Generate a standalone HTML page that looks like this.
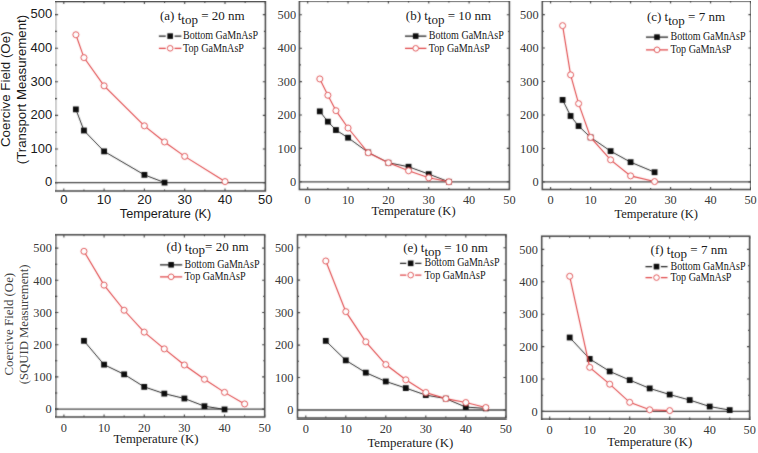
<!DOCTYPE html>
<html><head><meta charset="utf-8"><style>
html,body{margin:0;padding:0;background:#fff;}
body{width:758px;height:453px;overflow:hidden;}
svg{display:block;}
</style></head><body>
<svg width="758" height="453" viewBox="0 0 758 453">
<defs><filter id="bl" x="0" y="0" width="100%" height="100%"><feConvolveMatrix order="3" kernelMatrix="1 2 1 2 16 2 1 2 1" divisor="28" edgeMode="duplicate" preserveAlpha="false"/></filter></defs>
<rect width="758" height="453" fill="#fff"/>
<g filter="url(#bl)">
<path d="M63.8 191v-2.6M63.8 1.5v2.6M83.95 191v-1.5M83.95 1.5v1.5M104.1 191v-2.6M104.1 1.5v2.6M124.25 191v-1.5M124.25 1.5v1.5M144.4 191v-2.6M144.4 1.5v2.6M164.55 191v-1.5M164.55 1.5v1.5M184.7 191v-2.6M184.7 1.5v2.6M204.85 191v-1.5M204.85 1.5v1.5M225 191v-2.6M225 1.5v2.6M245.15 191v-1.5M245.15 1.5v1.5M265.3 191v-2.6M265.3 1.5v2.6M55.5 182.6h2.6M265.4 182.6h-2.6M55.5 165.8h1.5M265.4 165.8h-1.5M55.5 149h2.6M265.4 149h-2.6M55.5 132.2h1.5M265.4 132.2h-1.5M55.5 115.4h2.6M265.4 115.4h-2.6M55.5 98.6h1.5M265.4 98.6h-1.5M55.5 81.8h2.6M265.4 81.8h-2.6M55.5 65h1.5M265.4 65h-1.5M55.5 48.2h2.6M265.4 48.2h-2.6M55.5 31.4h1.5M265.4 31.4h-1.5M55.5 14.6h2.6M265.4 14.6h-2.6" stroke="#444" stroke-width="1.1" fill="none"/>
<line x1="55.5" y1="182.6" x2="265.4" y2="182.6" stroke="#444" stroke-width="1.3"/>
<rect x="55.5" y="1.5" width="209.9" height="189.5" fill="none" stroke="#444" stroke-width="1.5"/>
<polyline points="75.89,109.35 83.95,130.52 104.1,151.35 144.4,174.87 164.55,182.6" fill="none" stroke="#222" stroke-width="1"/>
<rect x="72.99" y="106.45" width="5.8" height="5.8" fill="#111"/>
<rect x="81.05" y="127.62" width="5.8" height="5.8" fill="#111"/>
<rect x="101.2" y="148.45" width="5.8" height="5.8" fill="#111"/>
<rect x="141.5" y="171.97" width="5.8" height="5.8" fill="#111"/>
<rect x="161.65" y="179.7" width="5.8" height="5.8" fill="#111"/>
<polyline points="75.89,34.76 83.95,57.61 104.1,85.83 144.4,125.82 164.55,141.94 184.7,156.39 225,181.59" fill="none" stroke="#e04547" stroke-width="1.1"/>
<circle cx="75.89" cy="34.76" r="3" fill="#fff" stroke="#e04547" stroke-width="1"/>
<circle cx="83.95" cy="57.61" r="3" fill="#fff" stroke="#e04547" stroke-width="1"/>
<circle cx="104.1" cy="85.83" r="3" fill="#fff" stroke="#e04547" stroke-width="1"/>
<circle cx="144.4" cy="125.82" r="3" fill="#fff" stroke="#e04547" stroke-width="1"/>
<circle cx="164.55" cy="141.94" r="3" fill="#fff" stroke="#e04547" stroke-width="1"/>
<circle cx="184.7" cy="156.39" r="3" fill="#fff" stroke="#e04547" stroke-width="1"/>
<circle cx="225" cy="181.59" r="3" fill="#fff" stroke="#e04547" stroke-width="1"/>
<path d="M158.9 36.1H165.75M174.55 36.1H181.4" stroke="#222" stroke-width="1.3"/>
<rect x="167.35" y="33.3" width="5.6" height="5.6" fill="#111"/>
<path d="M158.9 48.3H165.75M174.55 48.3H181.4" stroke="#e04547" stroke-width="1.2"/>
<circle cx="170.15" cy="48.3" r="2.8" fill="#fff" stroke="#e04547" stroke-width="1"/>
<path d="M307.7 189.5v-2.6M307.7 1v2.6M327.88 189.5v-1.5M327.88 1v1.5M348.05 189.5v-2.6M348.05 1v2.6M368.23 189.5v-1.5M368.23 1v1.5M388.4 189.5v-2.6M388.4 1v2.6M408.57 189.5v-1.5M408.57 1v1.5M428.75 189.5v-2.6M428.75 1v2.6M448.92 189.5v-1.5M448.92 1v1.5M469.1 189.5v-2.6M469.1 1v2.6M489.27 189.5v-1.5M489.27 1v1.5M509.45 189.5v-2.6M509.45 1v2.6M299.4 181.8h2.6M509.4 181.8h-2.6M299.4 165.1h1.5M509.4 165.1h-1.5M299.4 148.4h2.6M509.4 148.4h-2.6M299.4 131.7h1.5M509.4 131.7h-1.5M299.4 115h2.6M509.4 115h-2.6M299.4 98.3h1.5M509.4 98.3h-1.5M299.4 81.6h2.6M509.4 81.6h-2.6M299.4 64.9h1.5M509.4 64.9h-1.5M299.4 48.2h2.6M509.4 48.2h-2.6M299.4 31.5h1.5M509.4 31.5h-1.5M299.4 14.8h2.6M509.4 14.8h-2.6" stroke="#444" stroke-width="1.1" fill="none"/>
<line x1="299.4" y1="181.8" x2="509.4" y2="181.8" stroke="#444" stroke-width="1.3"/>
<rect x="299.4" y="1" width="210" height="188.5" fill="none" stroke="#444" stroke-width="1.5"/>
<polyline points="319.81,111.33 327.88,121.68 335.94,130.03 348.05,137.71 368.23,152.41 388.4,162.76 408.57,166.77 428.75,174.12 448.92,181.8" fill="none" stroke="#222" stroke-width="1"/>
<rect x="316.91" y="108.43" width="5.8" height="5.8" fill="#111"/>
<rect x="324.98" y="118.78" width="5.8" height="5.8" fill="#111"/>
<rect x="333.05" y="127.13" width="5.8" height="5.8" fill="#111"/>
<rect x="345.15" y="134.81" width="5.8" height="5.8" fill="#111"/>
<rect x="365.33" y="149.51" width="5.8" height="5.8" fill="#111"/>
<rect x="385.5" y="159.86" width="5.8" height="5.8" fill="#111"/>
<rect x="405.68" y="163.87" width="5.8" height="5.8" fill="#111"/>
<rect x="425.85" y="171.22" width="5.8" height="5.8" fill="#111"/>
<rect x="446.02" y="178.9" width="5.8" height="5.8" fill="#111"/>
<polyline points="319.81,78.93 327.88,95.29 335.94,110.66 348.05,128.03 368.23,152.74 388.4,162.76 408.57,170.78 428.75,177.79 448.92,181.8" fill="none" stroke="#e04547" stroke-width="1.1"/>
<circle cx="319.81" cy="78.93" r="3" fill="#fff" stroke="#e04547" stroke-width="1"/>
<circle cx="327.88" cy="95.29" r="3" fill="#fff" stroke="#e04547" stroke-width="1"/>
<circle cx="335.94" cy="110.66" r="3" fill="#fff" stroke="#e04547" stroke-width="1"/>
<circle cx="348.05" cy="128.03" r="3" fill="#fff" stroke="#e04547" stroke-width="1"/>
<circle cx="368.23" cy="152.74" r="3" fill="#fff" stroke="#e04547" stroke-width="1"/>
<circle cx="388.4" cy="162.76" r="3" fill="#fff" stroke="#e04547" stroke-width="1"/>
<circle cx="408.57" cy="170.78" r="3" fill="#fff" stroke="#e04547" stroke-width="1"/>
<circle cx="428.75" cy="177.79" r="3" fill="#fff" stroke="#e04547" stroke-width="1"/>
<circle cx="448.92" cy="181.8" r="3" fill="#fff" stroke="#e04547" stroke-width="1"/>
<path d="M405 36.1H415.7M415.7 36.1H426.4" stroke="#222" stroke-width="1.3"/>
<rect x="412.9" y="33.3" width="5.6" height="5.6" fill="#111"/>
<path d="M405 48.3H415.7M415.7 48.3H426.4" stroke="#e04547" stroke-width="1.2"/>
<circle cx="415.7" cy="48.3" r="2.8" fill="#fff" stroke="#e04547" stroke-width="1"/>
<path d="M550.6 189.5v-2.6M550.6 1v2.6M570.6 189.5v-1.5M570.6 1v1.5M590.6 189.5v-2.6M590.6 1v2.6M610.6 189.5v-1.5M610.6 1v1.5M630.6 189.5v-2.6M630.6 1v2.6M650.6 189.5v-1.5M650.6 1v1.5M670.6 189.5v-2.6M670.6 1v2.6M690.6 189.5v-1.5M690.6 1v1.5M710.6 189.5v-2.6M710.6 1v2.6M730.6 189.5v-1.5M730.6 1v1.5M750.6 189.5v-2.6M750.6 1v2.6M542.3 181.9h2.6M751 181.9h-2.6M542.3 165.17h1.5M751 165.17h-1.5M542.3 148.44h2.6M751 148.44h-2.6M542.3 131.71h1.5M751 131.71h-1.5M542.3 114.98h2.6M751 114.98h-2.6M542.3 98.25h1.5M751 98.25h-1.5M542.3 81.52h2.6M751 81.52h-2.6M542.3 64.79h1.5M751 64.79h-1.5M542.3 48.06h2.6M751 48.06h-2.6M542.3 31.33h1.5M751 31.33h-1.5M542.3 14.6h2.6M751 14.6h-2.6" stroke="#444" stroke-width="1.1" fill="none"/>
<line x1="542.3" y1="181.9" x2="751" y2="181.9" stroke="#444" stroke-width="1.3"/>
<rect x="542.3" y="1" width="208.7" height="188.5" fill="none" stroke="#444" stroke-width="1.5"/>
<polyline points="562.6,99.92 570.6,115.98 578.6,126.02 590.6,137.4 610.6,151.12 630.6,162.16 654.6,172.2" fill="none" stroke="#222" stroke-width="1"/>
<rect x="559.7" y="97.02" width="5.8" height="5.8" fill="#111"/>
<rect x="567.7" y="113.08" width="5.8" height="5.8" fill="#111"/>
<rect x="575.7" y="123.12" width="5.8" height="5.8" fill="#111"/>
<rect x="587.7" y="134.5" width="5.8" height="5.8" fill="#111"/>
<rect x="607.7" y="148.22" width="5.8" height="5.8" fill="#111"/>
<rect x="627.7" y="159.26" width="5.8" height="5.8" fill="#111"/>
<rect x="651.7" y="169.3" width="5.8" height="5.8" fill="#111"/>
<polyline points="562.6,25.64 570.6,74.83 578.6,103.6 590.6,137.4 610.6,159.82 630.6,175.88 654.6,181.57" fill="none" stroke="#e04547" stroke-width="1.1"/>
<circle cx="562.6" cy="25.64" r="3" fill="#fff" stroke="#e04547" stroke-width="1"/>
<circle cx="570.6" cy="74.83" r="3" fill="#fff" stroke="#e04547" stroke-width="1"/>
<circle cx="578.6" cy="103.6" r="3" fill="#fff" stroke="#e04547" stroke-width="1"/>
<circle cx="590.6" cy="137.4" r="3" fill="#fff" stroke="#e04547" stroke-width="1"/>
<circle cx="610.6" cy="159.82" r="3" fill="#fff" stroke="#e04547" stroke-width="1"/>
<circle cx="630.6" cy="175.88" r="3" fill="#fff" stroke="#e04547" stroke-width="1"/>
<circle cx="654.6" cy="181.57" r="3" fill="#fff" stroke="#e04547" stroke-width="1"/>
<path d="M646 37.1H657M657 37.1H668" stroke="#222" stroke-width="1.3"/>
<rect x="654.2" y="34.3" width="5.6" height="5.6" fill="#111"/>
<path d="M646 49.8H657M657 49.8H668" stroke="#e04547" stroke-width="1.2"/>
<circle cx="657" cy="49.8" r="2.8" fill="#fff" stroke="#e04547" stroke-width="1"/>
<path d="M63.9 417v-2.6M63.9 234.8v2.6M83.98 417v-1.5M83.98 234.8v1.5M104.06 417v-2.6M104.06 234.8v2.6M124.14 417v-1.5M124.14 234.8v1.5M144.22 417v-2.6M144.22 234.8v2.6M164.3 417v-1.5M164.3 234.8v1.5M184.38 417v-2.6M184.38 234.8v2.6M204.46 417v-1.5M204.46 234.8v1.5M224.54 417v-2.6M224.54 234.8v2.6M244.62 417v-1.5M244.62 234.8v1.5M264.7 417v-2.6M264.7 234.8v2.6M55.8 409.1h2.6M264.7 409.1h-2.6M55.8 393h1.5M264.7 393h-1.5M55.8 376.9h2.6M264.7 376.9h-2.6M55.8 360.8h1.5M264.7 360.8h-1.5M55.8 344.7h2.6M264.7 344.7h-2.6M55.8 328.6h1.5M264.7 328.6h-1.5M55.8 312.5h2.6M264.7 312.5h-2.6M55.8 296.4h1.5M264.7 296.4h-1.5M55.8 280.3h2.6M264.7 280.3h-2.6M55.8 264.2h1.5M264.7 264.2h-1.5M55.8 248.1h2.6M264.7 248.1h-2.6" stroke="#444" stroke-width="1.1" fill="none"/>
<line x1="55.8" y1="409.1" x2="264.7" y2="409.1" stroke="#444" stroke-width="1.3"/>
<rect x="55.8" y="234.8" width="208.9" height="182.2" fill="none" stroke="#444" stroke-width="1.5"/>
<polyline points="83.98,340.84 104.06,364.66 124.14,374.32 144.22,386.88 164.3,393.64 184.38,398.47 204.46,406.2 224.54,409.42" fill="none" stroke="#222" stroke-width="1"/>
<rect x="81.08" y="337.94" width="5.8" height="5.8" fill="#111"/>
<rect x="101.16" y="361.76" width="5.8" height="5.8" fill="#111"/>
<rect x="121.24" y="371.42" width="5.8" height="5.8" fill="#111"/>
<rect x="141.32" y="383.98" width="5.8" height="5.8" fill="#111"/>
<rect x="161.4" y="390.74" width="5.8" height="5.8" fill="#111"/>
<rect x="181.48" y="395.57" width="5.8" height="5.8" fill="#111"/>
<rect x="201.56" y="403.3" width="5.8" height="5.8" fill="#111"/>
<rect x="221.64" y="406.52" width="5.8" height="5.8" fill="#111"/>
<polyline points="83.98,251.32 104.06,285.13 124.14,310.25 144.22,332.14 164.3,348.89 184.38,364.99 204.46,379.31 224.54,392.36 244.62,403.95" fill="none" stroke="#e04547" stroke-width="1.1"/>
<circle cx="83.98" cy="251.32" r="3" fill="#fff" stroke="#e04547" stroke-width="1"/>
<circle cx="104.06" cy="285.13" r="3" fill="#fff" stroke="#e04547" stroke-width="1"/>
<circle cx="124.14" cy="310.25" r="3" fill="#fff" stroke="#e04547" stroke-width="1"/>
<circle cx="144.22" cy="332.14" r="3" fill="#fff" stroke="#e04547" stroke-width="1"/>
<circle cx="164.3" cy="348.89" r="3" fill="#fff" stroke="#e04547" stroke-width="1"/>
<circle cx="184.38" cy="364.99" r="3" fill="#fff" stroke="#e04547" stroke-width="1"/>
<circle cx="204.46" cy="379.31" r="3" fill="#fff" stroke="#e04547" stroke-width="1"/>
<circle cx="224.54" cy="392.36" r="3" fill="#fff" stroke="#e04547" stroke-width="1"/>
<circle cx="244.62" cy="403.95" r="3" fill="#fff" stroke="#e04547" stroke-width="1"/>
<path d="M160 264.8H171.1M171.1 264.8H182.2" stroke="#222" stroke-width="1.3"/>
<rect x="168.3" y="262" width="5.6" height="5.6" fill="#111"/>
<path d="M160 276.8H171.1M171.1 276.8H182.2" stroke="#e04547" stroke-width="1.2"/>
<circle cx="171.1" cy="276.8" r="2.8" fill="#fff" stroke="#e04547" stroke-width="1"/>
<path d="M305.8 418v-2.6M305.8 234.8v2.6M325.8 418v-1.5M325.8 234.8v1.5M345.8 418v-2.6M345.8 234.8v2.6M365.8 418v-1.5M365.8 234.8v1.5M385.8 418v-2.6M385.8 234.8v2.6M405.8 418v-1.5M405.8 234.8v1.5M425.8 418v-2.6M425.8 234.8v2.6M445.8 418v-1.5M445.8 234.8v1.5M465.8 418v-2.6M465.8 234.8v2.6M485.8 418v-1.5M485.8 234.8v1.5M505.8 418v-2.6M505.8 234.8v2.6M297.5 410h2.6M506 410h-2.6M297.5 393.77h1.5M506 393.77h-1.5M297.5 377.54h2.6M506 377.54h-2.6M297.5 361.31h1.5M506 361.31h-1.5M297.5 345.08h2.6M506 345.08h-2.6M297.5 328.85h1.5M506 328.85h-1.5M297.5 312.62h2.6M506 312.62h-2.6M297.5 296.39h1.5M506 296.39h-1.5M297.5 280.16h2.6M506 280.16h-2.6M297.5 263.93h1.5M506 263.93h-1.5M297.5 247.7h2.6M506 247.7h-2.6" stroke="#444" stroke-width="1.1" fill="none"/>
<line x1="297.5" y1="410" x2="506" y2="410" stroke="#444" stroke-width="1.3"/>
<rect x="297.5" y="234.8" width="208.5" height="183.2" fill="none" stroke="#444" stroke-width="1.5"/>
<polyline points="325.8,340.86 345.8,360.34 365.8,372.67 385.8,381.44 405.8,388.09 425.8,395.07 445.8,398.64 465.8,407.08 485.8,408.38" fill="none" stroke="#222" stroke-width="1"/>
<rect x="322.9" y="337.96" width="5.8" height="5.8" fill="#111"/>
<rect x="342.9" y="357.44" width="5.8" height="5.8" fill="#111"/>
<rect x="362.9" y="369.77" width="5.8" height="5.8" fill="#111"/>
<rect x="382.9" y="378.54" width="5.8" height="5.8" fill="#111"/>
<rect x="402.9" y="385.19" width="5.8" height="5.8" fill="#111"/>
<rect x="422.9" y="392.17" width="5.8" height="5.8" fill="#111"/>
<rect x="442.9" y="395.74" width="5.8" height="5.8" fill="#111"/>
<rect x="462.9" y="404.18" width="5.8" height="5.8" fill="#111"/>
<rect x="482.9" y="405.48" width="5.8" height="5.8" fill="#111"/>
<polyline points="325.8,261.01 345.8,311.65 365.8,341.83 385.8,364.56 405.8,379.81 425.8,392.47 445.8,398.64 465.8,402.53 485.8,407.5" fill="none" stroke="#e04547" stroke-width="1.1"/>
<circle cx="325.8" cy="261.01" r="3" fill="#fff" stroke="#e04547" stroke-width="1"/>
<circle cx="345.8" cy="311.65" r="3" fill="#fff" stroke="#e04547" stroke-width="1"/>
<circle cx="365.8" cy="341.83" r="3" fill="#fff" stroke="#e04547" stroke-width="1"/>
<circle cx="385.8" cy="364.56" r="3" fill="#fff" stroke="#e04547" stroke-width="1"/>
<circle cx="405.8" cy="379.81" r="3" fill="#fff" stroke="#e04547" stroke-width="1"/>
<circle cx="425.8" cy="392.47" r="3" fill="#fff" stroke="#e04547" stroke-width="1"/>
<circle cx="445.8" cy="398.64" r="3" fill="#fff" stroke="#e04547" stroke-width="1"/>
<circle cx="465.8" cy="402.53" r="3" fill="#fff" stroke="#e04547" stroke-width="1"/>
<circle cx="485.8" cy="407.5" r="3" fill="#fff" stroke="#e04547" stroke-width="1"/>
<path d="M400 263.3H406.3M415.1 263.3H421.4" stroke="#222" stroke-width="1.3"/>
<rect x="407.9" y="260.5" width="5.6" height="5.6" fill="#111"/>
<path d="M400 275.1H406.3M415.1 275.1H421.4" stroke="#e04547" stroke-width="1.2"/>
<circle cx="410.7" cy="275.1" r="2.8" fill="#fff" stroke="#e04547" stroke-width="1"/>
<path d="M549.7 419.1v-2.6M549.7 236.2v2.6M569.7 419.1v-1.5M569.7 236.2v1.5M589.7 419.1v-2.6M589.7 236.2v2.6M609.7 419.1v-1.5M609.7 236.2v1.5M629.7 419.1v-2.6M629.7 236.2v2.6M649.7 419.1v-1.5M649.7 236.2v1.5M669.7 419.1v-2.6M669.7 236.2v2.6M689.7 419.1v-1.5M689.7 236.2v1.5M709.7 419.1v-2.6M709.7 236.2v2.6M729.7 419.1v-1.5M729.7 236.2v1.5M749.7 419.1v-2.6M749.7 236.2v2.6M541.7 411.4h2.6M749.6 411.4h-2.6M541.7 395.2h1.5M749.6 395.2h-1.5M541.7 379h2.6M749.6 379h-2.6M541.7 362.8h1.5M749.6 362.8h-1.5M541.7 346.6h2.6M749.6 346.6h-2.6M541.7 330.4h1.5M749.6 330.4h-1.5M541.7 314.2h2.6M749.6 314.2h-2.6M541.7 298h1.5M749.6 298h-1.5M541.7 281.8h2.6M749.6 281.8h-2.6M541.7 265.6h1.5M749.6 265.6h-1.5M541.7 249.4h2.6M749.6 249.4h-2.6" stroke="#444" stroke-width="1.1" fill="none"/>
<line x1="541.7" y1="411.4" x2="749.6" y2="411.4" stroke="#444" stroke-width="1.3"/>
<rect x="541.7" y="236.2" width="207.9" height="182.9" fill="none" stroke="#444" stroke-width="1.5"/>
<polyline points="569.7,337.53 589.7,358.91 609.7,371.39 629.7,380.1 649.7,388.4 669.7,394.55 689.7,400.06 709.7,406.54 729.7,410.1" fill="none" stroke="#222" stroke-width="1"/>
<rect x="566.8" y="334.63" width="5.8" height="5.8" fill="#111"/>
<rect x="586.8" y="356.01" width="5.8" height="5.8" fill="#111"/>
<rect x="606.8" y="368.49" width="5.8" height="5.8" fill="#111"/>
<rect x="626.8" y="377.2" width="5.8" height="5.8" fill="#111"/>
<rect x="646.8" y="385.5" width="5.8" height="5.8" fill="#111"/>
<rect x="666.8" y="391.65" width="5.8" height="5.8" fill="#111"/>
<rect x="686.8" y="397.16" width="5.8" height="5.8" fill="#111"/>
<rect x="706.8" y="403.64" width="5.8" height="5.8" fill="#111"/>
<rect x="726.8" y="407.2" width="5.8" height="5.8" fill="#111"/>
<polyline points="569.7,276.29 589.7,367.34 609.7,384.18 629.7,402.33 649.7,409.78 669.7,410.59" fill="none" stroke="#e04547" stroke-width="1.1"/>
<circle cx="569.7" cy="276.29" r="3" fill="#fff" stroke="#e04547" stroke-width="1"/>
<circle cx="589.7" cy="367.34" r="3" fill="#fff" stroke="#e04547" stroke-width="1"/>
<circle cx="609.7" cy="384.18" r="3" fill="#fff" stroke="#e04547" stroke-width="1"/>
<circle cx="629.7" cy="402.33" r="3" fill="#fff" stroke="#e04547" stroke-width="1"/>
<circle cx="649.7" cy="409.78" r="3" fill="#fff" stroke="#e04547" stroke-width="1"/>
<circle cx="669.7" cy="410.59" r="3" fill="#fff" stroke="#e04547" stroke-width="1"/>
<path d="M645.5 266.6H652.1M660.9 266.6H667.5" stroke="#222" stroke-width="1.3"/>
<rect x="653.7" y="263.8" width="5.6" height="5.6" fill="#111"/>
<path d="M645.5 277.6H652.1M660.9 277.6H667.5" stroke="#e04547" stroke-width="1.2"/>
<circle cx="656.5" cy="277.6" r="2.8" fill="#fff" stroke="#e04547" stroke-width="1"/>
</g>
<g>
<text x="52.2" y="186.3" text-anchor="end" font-family='"Liberation Sans", sans-serif' font-size="13" fill="#1a1a1a">0</text>
<text x="52.2" y="152.7" text-anchor="end" font-family='"Liberation Sans", sans-serif' font-size="13" fill="#1a1a1a">100</text>
<text x="52.2" y="119.1" text-anchor="end" font-family='"Liberation Sans", sans-serif' font-size="13" fill="#1a1a1a">200</text>
<text x="52.2" y="85.5" text-anchor="end" font-family='"Liberation Sans", sans-serif' font-size="13" fill="#1a1a1a">300</text>
<text x="52.2" y="51.9" text-anchor="end" font-family='"Liberation Sans", sans-serif' font-size="13" fill="#1a1a1a">400</text>
<text x="52.2" y="18.3" text-anchor="end" font-family='"Liberation Sans", sans-serif' font-size="13" fill="#1a1a1a">500</text>
<text x="63.8" y="204.4" text-anchor="middle" font-family='"Liberation Sans", sans-serif' font-size="13" fill="#1a1a1a">0</text>
<text x="104.1" y="204.4" text-anchor="middle" font-family='"Liberation Sans", sans-serif' font-size="13" fill="#1a1a1a">10</text>
<text x="144.4" y="204.4" text-anchor="middle" font-family='"Liberation Sans", sans-serif' font-size="13" fill="#1a1a1a">20</text>
<text x="184.7" y="204.4" text-anchor="middle" font-family='"Liberation Sans", sans-serif' font-size="13" fill="#1a1a1a">30</text>
<text x="225" y="204.4" text-anchor="middle" font-family='"Liberation Sans", sans-serif' font-size="13" fill="#1a1a1a">40</text>
<text x="265.3" y="204.4" text-anchor="middle" font-family='"Liberation Sans", sans-serif' font-size="13" fill="#1a1a1a">50</text>
<text x="160" y="19.8" font-family='"Liberation Serif", serif' font-size="13" fill="#1a1a1a">(a) t<tspan dy="3.7">top</tspan><tspan dy="-3.7"> = 20 nm</tspan></text>
<text x="183" y="39.1" font-family='"Liberation Serif", serif' font-size="12" fill="#1a1a1a" textLength="75" lengthAdjust="spacingAndGlyphs">Bottom GaMnAsP</text>
<text x="183" y="51.7" font-family='"Liberation Serif", serif' font-size="12" fill="#1a1a1a" textLength="61" lengthAdjust="spacingAndGlyphs">Top GaMnAsP</text>
<text x="296.1" y="186" text-anchor="end" font-family='"Liberation Serif", serif' font-size="13.5" fill="#3a3a3a" textLength="6.2" lengthAdjust="spacingAndGlyphs">0</text>
<text x="296.1" y="152.6" text-anchor="end" font-family='"Liberation Serif", serif' font-size="13.5" fill="#3a3a3a" textLength="18.5" lengthAdjust="spacingAndGlyphs">100</text>
<text x="296.1" y="119.2" text-anchor="end" font-family='"Liberation Serif", serif' font-size="13.5" fill="#3a3a3a" textLength="18.5" lengthAdjust="spacingAndGlyphs">200</text>
<text x="296.1" y="85.8" text-anchor="end" font-family='"Liberation Serif", serif' font-size="13.5" fill="#3a3a3a" textLength="18.5" lengthAdjust="spacingAndGlyphs">300</text>
<text x="296.1" y="52.4" text-anchor="end" font-family='"Liberation Serif", serif' font-size="13.5" fill="#3a3a3a" textLength="18.5" lengthAdjust="spacingAndGlyphs">400</text>
<text x="296.1" y="19" text-anchor="end" font-family='"Liberation Serif", serif' font-size="13.5" fill="#3a3a3a" textLength="18.5" lengthAdjust="spacingAndGlyphs">500</text>
<text x="307.7" y="204" text-anchor="middle" font-family='"Liberation Serif", serif' font-size="13.5" fill="#3a3a3a" textLength="6.2" lengthAdjust="spacingAndGlyphs">0</text>
<text x="348.05" y="204" text-anchor="middle" font-family='"Liberation Serif", serif' font-size="13.5" fill="#3a3a3a" textLength="12.3" lengthAdjust="spacingAndGlyphs">10</text>
<text x="388.4" y="204" text-anchor="middle" font-family='"Liberation Serif", serif' font-size="13.5" fill="#3a3a3a" textLength="12.3" lengthAdjust="spacingAndGlyphs">20</text>
<text x="428.75" y="204" text-anchor="middle" font-family='"Liberation Serif", serif' font-size="13.5" fill="#3a3a3a" textLength="12.3" lengthAdjust="spacingAndGlyphs">30</text>
<text x="469.1" y="204" text-anchor="middle" font-family='"Liberation Serif", serif' font-size="13.5" fill="#3a3a3a" textLength="12.3" lengthAdjust="spacingAndGlyphs">40</text>
<text x="509.45" y="204" text-anchor="middle" font-family='"Liberation Serif", serif' font-size="13.5" fill="#3a3a3a" textLength="12.3" lengthAdjust="spacingAndGlyphs">50</text>
<text x="405.8" y="19.8" font-family='"Liberation Serif", serif' font-size="13" fill="#1a1a1a">(b) t<tspan dy="3.7">top</tspan><tspan dy="-3.7"> = 10 nm</tspan></text>
<text x="428.8" y="39.1" font-family='"Liberation Serif", serif' font-size="12" fill="#1a1a1a" textLength="75" lengthAdjust="spacingAndGlyphs">Bottom GaMnAsP</text>
<text x="428.8" y="51.7" font-family='"Liberation Serif", serif' font-size="12" fill="#1a1a1a" textLength="61" lengthAdjust="spacingAndGlyphs">Top GaMnAsP</text>
<text x="538.6" y="186.1" text-anchor="end" font-family='"Liberation Serif", serif' font-size="13.5" fill="#3a3a3a" textLength="6.2" lengthAdjust="spacingAndGlyphs">0</text>
<text x="538.6" y="152.64" text-anchor="end" font-family='"Liberation Serif", serif' font-size="13.5" fill="#3a3a3a" textLength="18.5" lengthAdjust="spacingAndGlyphs">100</text>
<text x="538.6" y="119.18" text-anchor="end" font-family='"Liberation Serif", serif' font-size="13.5" fill="#3a3a3a" textLength="18.5" lengthAdjust="spacingAndGlyphs">200</text>
<text x="538.6" y="85.72" text-anchor="end" font-family='"Liberation Serif", serif' font-size="13.5" fill="#3a3a3a" textLength="18.5" lengthAdjust="spacingAndGlyphs">300</text>
<text x="538.6" y="52.26" text-anchor="end" font-family='"Liberation Serif", serif' font-size="13.5" fill="#3a3a3a" textLength="18.5" lengthAdjust="spacingAndGlyphs">400</text>
<text x="538.6" y="18.8" text-anchor="end" font-family='"Liberation Serif", serif' font-size="13.5" fill="#3a3a3a" textLength="18.5" lengthAdjust="spacingAndGlyphs">500</text>
<text x="550.6" y="204" text-anchor="middle" font-family='"Liberation Serif", serif' font-size="13.5" fill="#3a3a3a" textLength="6.2" lengthAdjust="spacingAndGlyphs">0</text>
<text x="590.6" y="204" text-anchor="middle" font-family='"Liberation Serif", serif' font-size="13.5" fill="#3a3a3a" textLength="12.3" lengthAdjust="spacingAndGlyphs">10</text>
<text x="630.6" y="204" text-anchor="middle" font-family='"Liberation Serif", serif' font-size="13.5" fill="#3a3a3a" textLength="12.3" lengthAdjust="spacingAndGlyphs">20</text>
<text x="670.6" y="204" text-anchor="middle" font-family='"Liberation Serif", serif' font-size="13.5" fill="#3a3a3a" textLength="12.3" lengthAdjust="spacingAndGlyphs">30</text>
<text x="710.6" y="204" text-anchor="middle" font-family='"Liberation Serif", serif' font-size="13.5" fill="#3a3a3a" textLength="12.3" lengthAdjust="spacingAndGlyphs">40</text>
<text x="750.6" y="204" text-anchor="middle" font-family='"Liberation Serif", serif' font-size="13.5" fill="#3a3a3a" textLength="12.3" lengthAdjust="spacingAndGlyphs">50</text>
<text x="646.9" y="21" font-family='"Liberation Serif", serif' font-size="13" fill="#1a1a1a">(c) t<tspan dy="3.7">top</tspan><tspan dy="-3.7"> = 7 nm</tspan></text>
<text x="670.5" y="40.1" font-family='"Liberation Serif", serif' font-size="12" fill="#1a1a1a" textLength="75" lengthAdjust="spacingAndGlyphs">Bottom GaMnAsP</text>
<text x="670.5" y="53.2" font-family='"Liberation Serif", serif' font-size="12" fill="#1a1a1a" textLength="61" lengthAdjust="spacingAndGlyphs">Top GaMnAsP</text>
<text x="51.8" y="413.3" text-anchor="end" font-family='"Liberation Serif", serif' font-size="13.5" fill="#3a3a3a" textLength="6.2" lengthAdjust="spacingAndGlyphs">0</text>
<text x="51.8" y="381.1" text-anchor="end" font-family='"Liberation Serif", serif' font-size="13.5" fill="#3a3a3a" textLength="18.5" lengthAdjust="spacingAndGlyphs">100</text>
<text x="51.8" y="348.9" text-anchor="end" font-family='"Liberation Serif", serif' font-size="13.5" fill="#3a3a3a" textLength="18.5" lengthAdjust="spacingAndGlyphs">200</text>
<text x="51.8" y="316.7" text-anchor="end" font-family='"Liberation Serif", serif' font-size="13.5" fill="#3a3a3a" textLength="18.5" lengthAdjust="spacingAndGlyphs">300</text>
<text x="51.8" y="284.5" text-anchor="end" font-family='"Liberation Serif", serif' font-size="13.5" fill="#3a3a3a" textLength="18.5" lengthAdjust="spacingAndGlyphs">400</text>
<text x="51.8" y="252.3" text-anchor="end" font-family='"Liberation Serif", serif' font-size="13.5" fill="#3a3a3a" textLength="18.5" lengthAdjust="spacingAndGlyphs">500</text>
<text x="63.9" y="431.5" text-anchor="middle" font-family='"Liberation Serif", serif' font-size="13.5" fill="#3a3a3a" textLength="6.2" lengthAdjust="spacingAndGlyphs">0</text>
<text x="104.06" y="431.5" text-anchor="middle" font-family='"Liberation Serif", serif' font-size="13.5" fill="#3a3a3a" textLength="12.3" lengthAdjust="spacingAndGlyphs">10</text>
<text x="144.22" y="431.5" text-anchor="middle" font-family='"Liberation Serif", serif' font-size="13.5" fill="#3a3a3a" textLength="12.3" lengthAdjust="spacingAndGlyphs">20</text>
<text x="184.38" y="431.5" text-anchor="middle" font-family='"Liberation Serif", serif' font-size="13.5" fill="#3a3a3a" textLength="12.3" lengthAdjust="spacingAndGlyphs">30</text>
<text x="224.54" y="431.5" text-anchor="middle" font-family='"Liberation Serif", serif' font-size="13.5" fill="#3a3a3a" textLength="12.3" lengthAdjust="spacingAndGlyphs">40</text>
<text x="264.7" y="431.5" text-anchor="middle" font-family='"Liberation Serif", serif' font-size="13.5" fill="#3a3a3a" textLength="12.3" lengthAdjust="spacingAndGlyphs">50</text>
<text x="166.4" y="250.7" font-family='"Liberation Serif", serif' font-size="13" fill="#1a1a1a">(d) t<tspan dy="3.7">top</tspan><tspan dy="-3.7">= 20 nm</tspan></text>
<text x="184.6" y="267.8" font-family='"Liberation Serif", serif' font-size="12" fill="#1a1a1a" textLength="75" lengthAdjust="spacingAndGlyphs">Bottom GaMnAsP</text>
<text x="184.6" y="280.2" font-family='"Liberation Serif", serif' font-size="12" fill="#1a1a1a" textLength="61" lengthAdjust="spacingAndGlyphs">Top GaMnAsP</text>
<text x="293.4" y="414.2" text-anchor="end" font-family='"Liberation Serif", serif' font-size="13.5" fill="#3a3a3a" textLength="6.2" lengthAdjust="spacingAndGlyphs">0</text>
<text x="293.4" y="381.74" text-anchor="end" font-family='"Liberation Serif", serif' font-size="13.5" fill="#3a3a3a" textLength="18.5" lengthAdjust="spacingAndGlyphs">100</text>
<text x="293.4" y="349.28" text-anchor="end" font-family='"Liberation Serif", serif' font-size="13.5" fill="#3a3a3a" textLength="18.5" lengthAdjust="spacingAndGlyphs">200</text>
<text x="293.4" y="316.82" text-anchor="end" font-family='"Liberation Serif", serif' font-size="13.5" fill="#3a3a3a" textLength="18.5" lengthAdjust="spacingAndGlyphs">300</text>
<text x="293.4" y="284.36" text-anchor="end" font-family='"Liberation Serif", serif' font-size="13.5" fill="#3a3a3a" textLength="18.5" lengthAdjust="spacingAndGlyphs">400</text>
<text x="293.4" y="251.9" text-anchor="end" font-family='"Liberation Serif", serif' font-size="13.5" fill="#3a3a3a" textLength="18.5" lengthAdjust="spacingAndGlyphs">500</text>
<text x="305.8" y="432.5" text-anchor="middle" font-family='"Liberation Serif", serif' font-size="13.5" fill="#3a3a3a" textLength="6.2" lengthAdjust="spacingAndGlyphs">0</text>
<text x="345.8" y="432.5" text-anchor="middle" font-family='"Liberation Serif", serif' font-size="13.5" fill="#3a3a3a" textLength="12.3" lengthAdjust="spacingAndGlyphs">10</text>
<text x="385.8" y="432.5" text-anchor="middle" font-family='"Liberation Serif", serif' font-size="13.5" fill="#3a3a3a" textLength="12.3" lengthAdjust="spacingAndGlyphs">20</text>
<text x="425.8" y="432.5" text-anchor="middle" font-family='"Liberation Serif", serif' font-size="13.5" fill="#3a3a3a" textLength="12.3" lengthAdjust="spacingAndGlyphs">30</text>
<text x="465.8" y="432.5" text-anchor="middle" font-family='"Liberation Serif", serif' font-size="13.5" fill="#3a3a3a" textLength="12.3" lengthAdjust="spacingAndGlyphs">40</text>
<text x="505.8" y="432.5" text-anchor="middle" font-family='"Liberation Serif", serif' font-size="13.5" fill="#3a3a3a" textLength="12.3" lengthAdjust="spacingAndGlyphs">50</text>
<text x="403.2" y="251.8" font-family='"Liberation Serif", serif' font-size="13" fill="#1a1a1a">(e) t<tspan dy="3.7">top</tspan><tspan dy="-3.7"> = 10 nm</tspan></text>
<text x="424.6" y="266.3" font-family='"Liberation Serif", serif' font-size="12" fill="#1a1a1a" textLength="75" lengthAdjust="spacingAndGlyphs">Bottom GaMnAsP</text>
<text x="424.6" y="278.5" font-family='"Liberation Serif", serif' font-size="12" fill="#1a1a1a" textLength="61" lengthAdjust="spacingAndGlyphs">Top GaMnAsP</text>
<text x="537.8" y="415.6" text-anchor="end" font-family='"Liberation Serif", serif' font-size="13.5" fill="#3a3a3a" textLength="6.2" lengthAdjust="spacingAndGlyphs">0</text>
<text x="537.8" y="383.2" text-anchor="end" font-family='"Liberation Serif", serif' font-size="13.5" fill="#3a3a3a" textLength="18.5" lengthAdjust="spacingAndGlyphs">100</text>
<text x="537.8" y="350.8" text-anchor="end" font-family='"Liberation Serif", serif' font-size="13.5" fill="#3a3a3a" textLength="18.5" lengthAdjust="spacingAndGlyphs">200</text>
<text x="537.8" y="318.4" text-anchor="end" font-family='"Liberation Serif", serif' font-size="13.5" fill="#3a3a3a" textLength="18.5" lengthAdjust="spacingAndGlyphs">300</text>
<text x="537.8" y="286" text-anchor="end" font-family='"Liberation Serif", serif' font-size="13.5" fill="#3a3a3a" textLength="18.5" lengthAdjust="spacingAndGlyphs">400</text>
<text x="537.8" y="253.6" text-anchor="end" font-family='"Liberation Serif", serif' font-size="13.5" fill="#3a3a3a" textLength="18.5" lengthAdjust="spacingAndGlyphs">500</text>
<text x="549.7" y="433.6" text-anchor="middle" font-family='"Liberation Serif", serif' font-size="13.5" fill="#3a3a3a" textLength="6.2" lengthAdjust="spacingAndGlyphs">0</text>
<text x="589.7" y="433.6" text-anchor="middle" font-family='"Liberation Serif", serif' font-size="13.5" fill="#3a3a3a" textLength="12.3" lengthAdjust="spacingAndGlyphs">10</text>
<text x="629.7" y="433.6" text-anchor="middle" font-family='"Liberation Serif", serif' font-size="13.5" fill="#3a3a3a" textLength="12.3" lengthAdjust="spacingAndGlyphs">20</text>
<text x="669.7" y="433.6" text-anchor="middle" font-family='"Liberation Serif", serif' font-size="13.5" fill="#3a3a3a" textLength="12.3" lengthAdjust="spacingAndGlyphs">30</text>
<text x="709.7" y="433.6" text-anchor="middle" font-family='"Liberation Serif", serif' font-size="13.5" fill="#3a3a3a" textLength="12.3" lengthAdjust="spacingAndGlyphs">40</text>
<text x="749.7" y="433.6" text-anchor="middle" font-family='"Liberation Serif", serif' font-size="13.5" fill="#3a3a3a" textLength="12.3" lengthAdjust="spacingAndGlyphs">50</text>
<text x="650.6" y="254" font-family='"Liberation Serif", serif' font-size="13" fill="#1a1a1a">(f) t<tspan dy="3.7">top</tspan><tspan dy="-3.7"> = 7 nm</tspan></text>
<text x="670.5" y="269.6" font-family='"Liberation Serif", serif' font-size="12" fill="#1a1a1a" textLength="75" lengthAdjust="spacingAndGlyphs">Bottom GaMnAsP</text>
<text x="670.5" y="281" font-family='"Liberation Serif", serif' font-size="12" fill="#1a1a1a" textLength="61" lengthAdjust="spacingAndGlyphs">Top GaMnAsP</text>
<text x="119.8" y="217.9" font-family='"Liberation Sans", sans-serif' font-size="12.7" fill="#1a1a1a" textLength="91.5" lengthAdjust="spacingAndGlyphs">Temperature (K)</text>
<text x="371.6" y="215.4" font-family='"Liberation Serif", serif' font-size="13" fill="#1a1a1a" textLength="84" lengthAdjust="spacingAndGlyphs">Temperature (K)</text>
<text x="614.5" y="217.5" font-family='"Liberation Serif", serif' font-size="13" fill="#1a1a1a" textLength="83.5" lengthAdjust="spacingAndGlyphs">Temperature (K)</text>
<text x="113.4" y="443.3" font-family='"Liberation Serif", serif' font-size="13" fill="#1a1a1a" textLength="85" lengthAdjust="spacingAndGlyphs">Temperature (K)</text>
<text x="367.4" y="446.7" font-family='"Liberation Serif", serif' font-size="13" fill="#1a1a1a" textLength="85.8" lengthAdjust="spacingAndGlyphs">Temperature (K)</text>
<text x="607.3" y="445.9" font-family='"Liberation Serif", serif' font-size="13" fill="#1a1a1a" textLength="85" lengthAdjust="spacingAndGlyphs">Temperature (K)</text>
<text transform="translate(10.4,147.1) rotate(-90)" font-family='"Liberation Sans", sans-serif' font-size="13" fill="#1a1a1a" textLength="115.7" lengthAdjust="spacingAndGlyphs">Coercive Field (Oe)</text>
<text transform="translate(26.3,164.2) rotate(-90)" font-family='"Liberation Sans", sans-serif' font-size="13" fill="#1a1a1a" textLength="149.3" lengthAdjust="spacingAndGlyphs">(Transport Measurement)</text>
<text transform="translate(13,375.5) rotate(-90)" font-family='"Liberation Serif", serif' font-size="11.8" fill="#444" textLength="102.6" lengthAdjust="spacingAndGlyphs">Coercive Field (Oe)</text>
<text transform="translate(28,384.3) rotate(-90)" font-family='"Liberation Serif", serif' font-size="11.8" fill="#444" textLength="119.8" lengthAdjust="spacingAndGlyphs">(SQUID Measurement)</text>
</g>
</svg>
</body></html>
